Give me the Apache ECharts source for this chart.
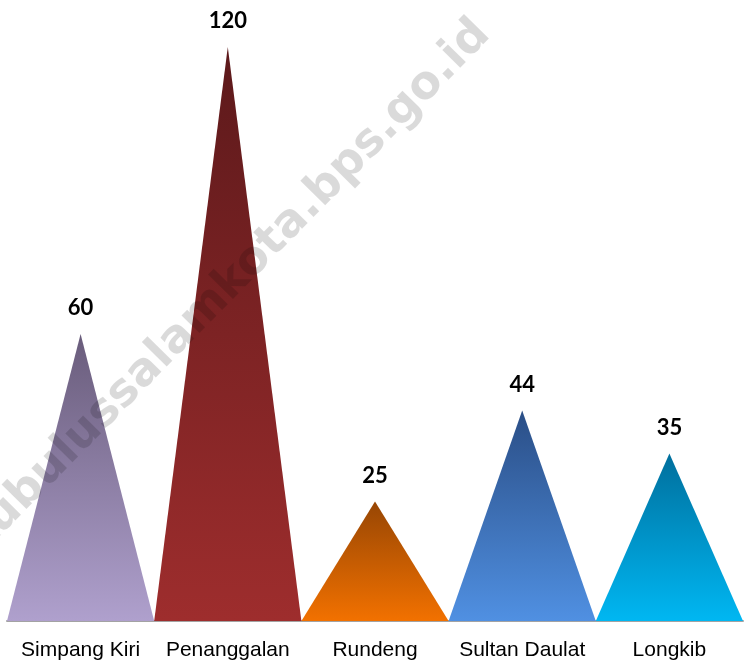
<!DOCTYPE html>
<html>
<head>
<meta charset="utf-8">
<script src="https://cdn.jsdelivr.net/npm/echarts@6/dist/echarts.min.js"></script>
<style>
html,body{margin:0;padding:0;background:#fff;}
#chart{width:744px;height:666px;}
</style>
</head>
<body>
<div id="chart"></div>
<script>
const categories = ['Simpang Kiri', 'Penanggalan', 'Rundeng', 'Sultan Daulat', 'Longkib'];
const values = [60, 120, 25, 44, 35];
const topColors = ['#695c7b', '#5c191b', '#974604', '#2a4e86', '#006f9d'];
const bottomColors = ['#afa0cd', '#9e2d2d', '#f27100', '#5090e2', '#00b7f2'];
const watermark = 'kubulussalamkota.bps.go.id';

const chart = echarts.init(document.getElementById('chart'));
const data = values.map((v, i) => ({
  value: v,
  itemStyle: {
    color: new echarts.graphic.LinearGradient(0, 0, 0, 1, [
      { offset: 0, color: topColors[i] },
      { offset: 1, color: bottomColors[i] }
    ])
  }
}));

chart.setOption({
  backgroundColor: '#ffffff',
  animation: false,
  grid: { left: 7, right: 1, top: 47, bottom: 45, containLabel: false },
  xAxis: {
    type: 'category',
    data: categories,
    axisLine: { show: true, lineStyle: { color: '#a3a3a3', width: 2 } },
    axisTick: { show: false },
    axisLabel: {
      interval: 0,
      color: '#000',
      fontFamily: '"Liberation Sans", Arial, sans-serif',
      fontSize: 21,
      margin: 19
    }
  },
  yAxis: {
    type: 'value',
    min: 0,
    max: 120,
    show: false,
    splitLine: { show: false }
  },
  series: [{
    type: 'pictorialBar',
    symbol: 'triangle',
    symbolSize: ['100%', '100%'],
    barCategoryGap: '0%',
    data: data,
    z: 2,
    label: {
      show: true,
      position: 'top',
      distance: 15,
      color: '#000',
      fontFamily: 'Lato, "Open Sans", sans-serif',
      fontWeight: 'bold',
      fontSize: 22
    }
  }],
  graphic: [{
    type: 'text',
    x: 227,
    y: 288,
    rotation: 45.5 * Math.PI / 180,
    z: 100,
    silent: true,
    style: {
      text: watermark,
      fill: 'rgba(0,0,0,0.145)',
      font: 'bold 46px "DejaVu Sans", sans-serif',
      align: 'center',
      verticalAlign: 'middle'
    }
  }]
});
</script>
</body>
</html>
